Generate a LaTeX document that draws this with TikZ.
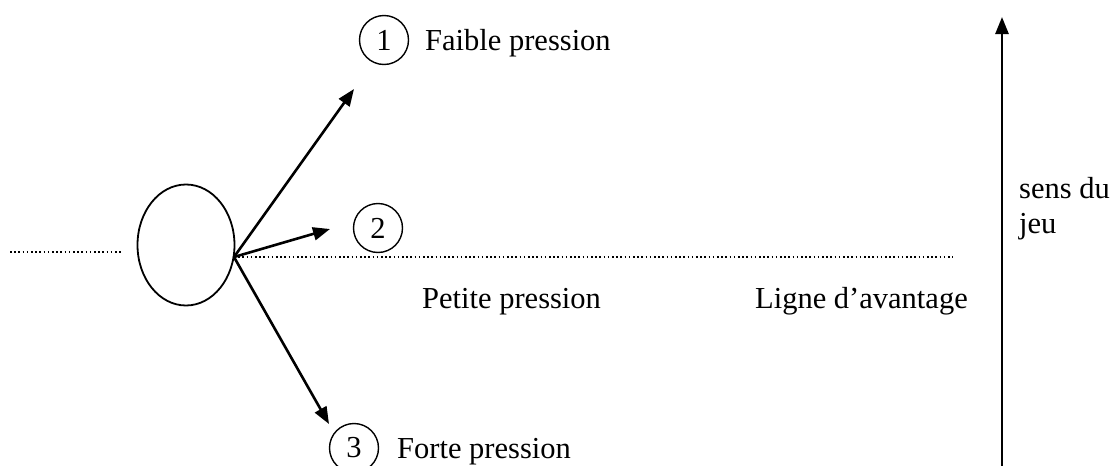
\documentclass[tikz,border=0pt]{standalone}
\usepackage{fontspec}
\setmainfont{Liberation Serif}
\usetikzlibrary{arrows.meta}
\usetikzlibrary{shapes.geometric}
\tikzset{
  fleche/.style={line width=2.6pt,-{Triangle[length=17pt,width=13pt]}},
  pointille/.style={line width=1.6pt,dash pattern=on 1.6pt off 2.6pt},
  numero/.style={draw,circle,line width=1.4pt,minimum size=49pt,inner sep=0pt},
  texte/.style={anchor=base west,inner sep=0pt}
}

\begin{document}
\begin{tikzpicture}[x=1pt,y=-1pt,font=\fontsize{30.5}{36}\selectfont]
\useasboundingbox (0,0) rectangle (1117,466);

\node[draw,ellipse,line width=1.8pt,minimum width=97pt,minimum height=121pt] (balle) at (186,245) {};
\coordinate (O) at (234,257);
\coordinate (G) at (10,252);
\coordinate (H) at (123,252);
\coordinate (D) at (953,257);
\coordinate (A1) at (354,89);
\coordinate (A2) at (330,229);
\coordinate (A3) at (329,424);
\coordinate (bas) at (1002,466);
\coordinate (haut) at (1002,17);

\draw[pointille] (G)--(H);
\draw[pointille] (O)--(D);
\draw[fleche] (O)--(A1);
\draw[fleche] (O)--(A2);
\draw[fleche] (O)--(A3);
\draw[fleche] (bas)--(haut);

\node[numero] (n1) at (384,40) {1};
\node[numero] (n2) at (378,228) {2};
\node[numero] (n3) at (354,448) {3};

\node[texte] (faible) at (425,50) {Faible pression};
\node[texte] (forte) at (397,458) {Forte pression};
\node[texte] (petite) at (422,308) {Petite pression};
\node[texte] (ligne) at (755,308) {Ligne d’avantage};
\node[texte] (sens) at (1019,198) {sens du};
\node[texte] (jeu) at (1019,233) {jeu};

\end{tikzpicture}
\end{document}
